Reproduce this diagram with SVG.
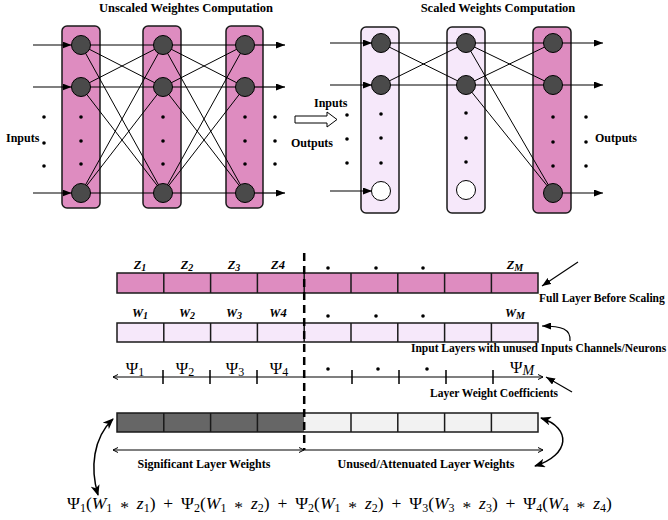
<svg xmlns="http://www.w3.org/2000/svg" width="668" height="520" viewBox="0 0 668 520">
<defs>
<marker id="ah" markerUnits="userSpaceOnUse" markerWidth="9" markerHeight="7" refX="9" refY="3.5" orient="auto"><path d="M0,0 L9,3.5 L0,7 z" fill="#000"/></marker>
<marker id="cv" markerUnits="userSpaceOnUse" markerWidth="11" markerHeight="9" refX="10" refY="4.5" orient="auto-start-reverse"><path d="M0,0 L11,4.5 L0,9 L3,4.5 z" fill="#000"/></marker>
<marker id="tip" markerUnits="userSpaceOnUse" markerWidth="6" markerHeight="6" refX="5" refY="3" orient="auto-start-reverse"><path d="M0,0.5 L5,3 L0,5.5" fill="none" stroke="#000" stroke-width="1"/></marker>
</defs>
<style>
.cp{fill:#de8cc0;stroke:#1a1a1a;stroke-width:1.5}
.cl{fill:#f6e8fa;stroke:#1a1a1a;stroke-width:1.5}
.n{fill:#4a4a4a;stroke:#000;stroke-width:1}
.nw{fill:#fff;stroke:#000;stroke-width:1}
.d{fill:#000}
.c{stroke:#000;stroke-width:1;fill:none}
.a{stroke:#000;stroke-width:1.2;fill:none;marker-end:url(#ah)}
.b{font-family:"Liberation Serif",serif;font-weight:bold;fill:#000}
.bi{font-family:"Liberation Serif",serif;font-weight:bold;font-style:italic;fill:#000;font-size:12.5px}
.m{font-family:"Liberation Serif",serif;fill:#000;font-size:17px}
.f{font-family:"Liberation Serif",serif;fill:#000;font-size:17.5px;word-spacing:3.5px}
.i{font-style:italic}
.s{font-size:10px}
.s2{font-size:12px}
.cell{stroke:#1a1a1a;stroke-width:1.5}
</style>

<!-- titles -->
<text class="b" x="186" y="12" font-size="12.5" text-anchor="middle">Unscaled Weightes Computation</text>
<text class="b" x="498" y="12" font-size="12.5" text-anchor="middle">Scaled Weights Computation</text>

<!-- left network columns -->
<g id="L-col1"><rect class="cp" x="62" y="26" width="38" height="182" rx="5"/><circle class="d" cx="81" cy="117" r="1.8"/><circle class="d" cx="81" cy="141" r="1.8"/><circle class="d" cx="81" cy="164" r="1.8"/></g>
<g id="L-col2"><rect class="cp" x="143" y="26" width="38" height="182" rx="5"/><circle class="d" cx="163" cy="117" r="1.8"/><circle class="d" cx="163" cy="141" r="1.8"/><circle class="d" cx="163" cy="164" r="1.8"/></g>
<g id="L-col3"><rect class="cp" x="226" y="26" width="37" height="182" rx="5"/><circle class="d" cx="245" cy="117" r="1.8"/><circle class="d" cx="245" cy="141" r="1.8"/><circle class="d" cx="245" cy="164" r="1.8"/></g>
<g id="L-side-dots"><circle class="d" cx="44" cy="117" r="1.8"/><circle class="d" cx="44" cy="143" r="1.8"/><circle class="d" cx="44" cy="166" r="1.8"/><circle class="d" cx="275" cy="117" r="1.8"/><circle class="d" cx="275" cy="141" r="1.8"/><circle class="d" cx="275" cy="164" r="1.8"/></g>
<g id="L-inputs-label"><text class="b" x="6" y="142" font-size="12">Inputs</text></g>

<!-- right network columns -->
<g id="R-col1"><rect class="cl" x="361" y="27" width="38" height="186" rx="5"/><circle class="d" cx="381" cy="114" r="1.8"/><circle class="d" cx="381" cy="138" r="1.8"/><circle class="d" cx="381" cy="163" r="1.8"/></g>
<g id="R-col2"><rect class="cl" x="447" y="27" width="38" height="186" rx="5"/><circle class="d" cx="466" cy="113" r="1.8"/><circle class="d" cx="466" cy="138" r="1.8"/><circle class="d" cx="466" cy="162" r="1.8"/></g>
<g id="R-col3"><rect class="cp" x="533" y="27" width="38" height="186" rx="5"/><circle class="d" cx="553" cy="117" r="1.8"/><circle class="d" cx="553" cy="142" r="1.8"/><circle class="d" cx="553" cy="166" r="1.8"/></g>
<g id="R-side-dots"><circle class="d" cx="347" cy="115" r="1.8"/><circle class="d" cx="347" cy="139" r="1.8"/><circle class="d" cx="347" cy="163" r="1.8"/><circle class="d" cx="586" cy="117" r="1.8"/><circle class="d" cx="586" cy="142" r="1.8"/><circle class="d" cx="586" cy="166" r="1.8"/></g>
<g id="R-labels"><text class="b" x="314" y="107" font-size="12">Inputs</text><text class="b" x="291" y="147" font-size="12">Outputs</text><text class="b" x="595" y="142" font-size="12">Outputs</text></g>
<g id="hollow-arrow"><polygon points="295,116 327,116 327,112 337,119.5 327,127 327,123 295,123" fill="#fff" stroke="#000" stroke-width="1"/></g>

<!-- connectors -->
<g id="connectors">
<line class="a" x1="33" y1="45" x2="71.5" y2="45"/>
<line class="a" x1="33" y1="87" x2="71.5" y2="87"/>
<line class="a" x1="33" y1="193" x2="71.5" y2="193"/>
<line class="a" x1="254.5" y1="45" x2="285" y2="45"/>
<line class="a" x1="254.5" y1="87" x2="285" y2="87"/>
<line class="a" x1="254.5" y1="193" x2="285" y2="193"/>
<path class="c" d="M81,45 L163,45 M81,45 L163,87 M81,45 L163,193 M81,87 L163,45 M81,87 L163,87 M81,87 L163,193 M81,193 L163,45 M81,193 L163,87 M81,193 L163,193"/>
<path class="c" d="M163,45 L245,45 M163,45 L245,87 M163,45 L245,193 M163,87 L245,45 M163,87 L245,87 M163,87 L245,193 M163,193 L245,45 M163,193 L245,87 M163,193 L245,193"/>
<line class="a" x1="330" y1="43" x2="372" y2="43"/>
<line class="a" x1="330" y1="85" x2="372" y2="85"/>
<line class="a" x1="330" y1="191" x2="372" y2="191"/>
<line class="a" x1="562" y1="43" x2="603" y2="43"/>
<line class="a" x1="562" y1="85" x2="603" y2="85"/>
<line class="a" x1="562" y1="193" x2="603" y2="193"/>
<path class="c" d="M381,43 L466,43 M381,43 L466,85 M381,85 L466,43 M381,85 L466,85"/>
<path class="c" d="M466,43 L553,43 M466,43 L553,85 M466,43 L553,193 M466,85 L553,43 M466,85 L553,85 M466,85 L553,193"/>
<!-- annotation arrows -->
<line class="a" x1="578" y1="262" x2="542" y2="286"/>
<path class="a" d="M570,341 C571,329 562,326 542,326"/>
<line class="a" x1="572" y1="392" x2="546" y2="377"/>
<path d="M113,419 C93,438 90,468 98,495" fill="none" stroke="#000" stroke-width="1.5" marker-start="url(#cv)" marker-end="url(#cv)"/>
<path d="M541,418 C572,428 570,455 535,466" fill="none" stroke="#000" stroke-width="1.5" marker-start="url(#cv)" marker-end="url(#cv)"/>
<line x1="113" y1="450" x2="304" y2="450" stroke="#000" stroke-width="1" marker-start="url(#tip)" marker-end="url(#tip)"/>
<line x1="304" y1="450" x2="543" y2="450" stroke="#000" stroke-width="1" marker-end="url(#tip)"/>
</g>

<!-- neurons -->
<g id="L-n11"><circle class="n" cx="81" cy="45" r="9.5"/></g>
<g id="L-n12"><circle class="n" cx="81" cy="87" r="9.5"/></g>
<g id="L-n13"><circle class="n" cx="81" cy="193" r="9.5"/></g>
<g id="L-n21"><circle class="n" cx="163" cy="45" r="9.5"/></g>
<g id="L-n22"><circle class="n" cx="163" cy="87" r="9.5"/></g>
<g id="L-n23"><circle class="n" cx="163" cy="193" r="9.5"/></g>
<g id="L-n31"><circle class="n" cx="245" cy="45" r="9.5"/></g>
<g id="L-n32"><circle class="n" cx="245" cy="87" r="9.5"/></g>
<g id="L-n33"><circle class="n" cx="245" cy="193" r="9.5"/></g>
<g id="R-n11"><circle class="n" cx="381" cy="43" r="9.5" stroke="#5a1a5a"/></g>
<g id="R-n12"><circle class="n" cx="381" cy="85" r="9.5"/></g>
<g id="R-n13"><circle class="nw" cx="381" cy="191" r="9.5"/></g>
<g id="R-n21"><circle class="n" cx="466" cy="43" r="9.5"/></g>
<g id="R-n22"><circle class="n" cx="466" cy="85" r="9.5"/></g>
<g id="R-n23"><circle class="nw" cx="466" cy="190" r="9.5"/></g>
<g id="R-n31"><circle class="n" cx="553" cy="43" r="9.5"/></g>
<g id="R-n32"><circle class="n" cx="553" cy="85" r="9.5"/></g>
<g id="R-n33"><circle class="n" cx="553" cy="193" r="9.5"/></g>

<!-- Z bar -->
<g id="Z-bar">
<rect x="117" y="273" width="421" height="20" fill="#de8cc0" stroke="#1a1a1a" stroke-width="1.5"/>
<path class="cell" d="M163.8,273V293M210.6,273V293M257.4,273V293M304.2,273V293M351,273V293M397.8,273V293M444.6,273V293M491.4,273V293"/>
<text class="bi" x="140" y="269" text-anchor="middle">Z<tspan class="s" dy="2">1</tspan></text>
<text class="bi" x="187" y="269" text-anchor="middle">Z<tspan class="s" dy="2">2</tspan></text>
<text class="bi" x="234" y="269" text-anchor="middle">Z<tspan class="s" dy="2">3</tspan></text>
<text class="bi" x="278" y="269" text-anchor="middle">Z4</text>
<circle class="d" cx="328" cy="268" r="1.8"/><circle class="d" cx="376" cy="268" r="1.8"/><circle class="d" cx="423" cy="268" r="1.8"/>
<text class="bi" x="515" y="269" text-anchor="middle">Z<tspan class="s" dy="2">M</tspan></text>
</g>
<g id="Z-label"><text class="b" x="539" y="302" font-size="11.5">Full Layer Before Scaling</text></g>

<!-- W bar -->
<g id="W-bar">
<rect x="117" y="323" width="421" height="19" fill="#f6e8fa" stroke="#1a1a1a" stroke-width="1.5"/>
<path class="cell" d="M163.8,323V342M210.6,323V342M257.4,323V342M304.2,323V342M351,323V342M397.8,323V342M444.6,323V342M491.4,323V342"/>
<text class="bi" x="140" y="317" text-anchor="middle">W<tspan class="s" dy="2">1</tspan></text>
<text class="bi" x="187" y="317" text-anchor="middle">W<tspan class="s" dy="2">2</tspan></text>
<text class="bi" x="234" y="317" text-anchor="middle">W<tspan class="s" dy="2">3</tspan></text>
<text class="bi" x="278" y="317" text-anchor="middle">W4</text>
<circle class="d" cx="328" cy="316" r="1.8"/><circle class="d" cx="376" cy="316" r="1.8"/><circle class="d" cx="423" cy="316" r="1.8"/>
<text class="bi" x="515" y="317" text-anchor="middle">W<tspan class="s" dy="2">M</tspan></text>
</g>
<g id="W-label"><text class="b" x="411" y="352" font-size="11.5">Input Layers with unused Inputs Channels/Neurons</text></g>

<!-- Psi axis -->
<g id="Psi-axis">
<line x1="113" y1="377" x2="543" y2="377" stroke="#000" stroke-width="1.2" marker-start="url(#tip)" marker-end="url(#tip)"/>
<path d="M163,370V384M210,370V384M257,370V384M352,370V384M399,370V384M446,370V384M493,370V384" stroke="#000" stroke-width="1.5"/>
<text class="m" x="135" y="374" text-anchor="middle">Ψ<tspan class="s2" dy="2">1</tspan></text>
<text class="m" x="185" y="374" text-anchor="middle">Ψ<tspan class="s2" dy="2">2</tspan></text>
<text class="m" x="235" y="374" text-anchor="middle">Ψ<tspan class="s2" dy="2">3</tspan></text>
<text class="m" x="279" y="374" text-anchor="middle">Ψ<tspan class="s2" dy="2">4</tspan></text>
<circle class="d" cx="328" cy="369" r="1.8"/><circle class="d" cx="378" cy="369" r="1.8"/><circle class="d" cx="427" cy="369" r="1.8"/>
<text class="m" x="522" y="373" text-anchor="middle">Ψ<tspan class="i" font-size="14" dy="2">M</tspan></text>
</g>
<g id="Psi-label"><text class="b" x="430" y="397" font-size="11.5">Layer Weight Coefficients</text></g>

<!-- weights bar -->
<g id="weights-bar">
<rect x="117" y="413" width="187.2" height="19" fill="#666"/>
<rect x="304.2" y="413" width="233.8" height="19" fill="#f2f2f2"/>
<rect x="117" y="413" width="421" height="19" fill="none" stroke="#1a1a1a" stroke-width="1.5"/>
<path class="cell" d="M163.8,413V432M210.6,413V432M257.4,413V432M351,413V432M397.8,413V432M444.6,413V432M491.4,413V432"/>
</g>
<g id="range-labels">
<text class="b" x="204" y="468" font-size="12" text-anchor="middle">Significant Layer Weights</text>
<text class="b" x="426" y="468" font-size="12" text-anchor="middle">Unused/Attenuated Layer Weights</text>
</g>

<!-- dashed divider -->
<line x1="304.2" y1="253" x2="304.2" y2="450" stroke="#000" stroke-width="2.5" stroke-dasharray="8,5"/>

<!-- formula -->
<g id="formula">
<text class="f" x="67" y="509">Ψ<tspan class="s2" dy="3">1</tspan><tspan dy="-3">(</tspan><tspan class="i">W</tspan><tspan class="s2" dy="3">1</tspan><tspan dy="1"> * </tspan><tspan class="i" dy="-4">z</tspan><tspan class="s2" dy="3">1</tspan><tspan dy="-3">) + Ψ</tspan><tspan class="s2" dy="3">2</tspan><tspan dy="-3">(</tspan><tspan class="i">W</tspan><tspan class="s2" dy="3">1</tspan><tspan dy="1"> * </tspan><tspan class="i" dy="-4">z</tspan><tspan class="s2" dy="3">2</tspan><tspan dy="-3">) + Ψ</tspan><tspan class="s2" dy="3">2</tspan><tspan dy="-3">(</tspan><tspan class="i">W</tspan><tspan class="s2" dy="3">1</tspan><tspan dy="1"> * </tspan><tspan class="i" dy="-4">z</tspan><tspan class="s2" dy="3">2</tspan><tspan dy="-3">) + Ψ</tspan><tspan class="s2" dy="3">3</tspan><tspan dy="-3">(</tspan><tspan class="i">W</tspan><tspan class="s2" dy="3">3</tspan><tspan dy="1"> * </tspan><tspan class="i" dy="-4">z</tspan><tspan class="s2" dy="3">3</tspan><tspan dy="-3">) + Ψ</tspan><tspan class="s2" dy="3">4</tspan><tspan dy="-3">(</tspan><tspan class="i">W</tspan><tspan class="s2" dy="3">4</tspan><tspan dy="1"> * </tspan><tspan class="i" dy="-4">z</tspan><tspan class="s2" dy="3">4</tspan><tspan dy="-3">)</tspan></text>
</g>
</svg>
